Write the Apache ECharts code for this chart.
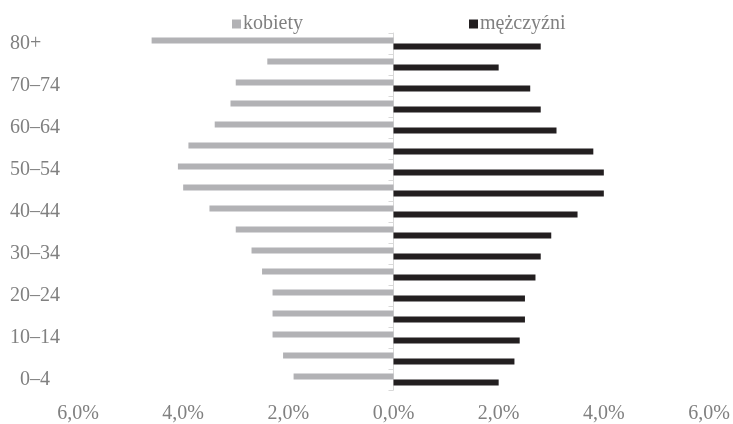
<!DOCTYPE html>
<html>
<head>
<meta charset="utf-8">
<script src="https://cdn.jsdelivr.net/npm/echarts@6/dist/echarts.min.js"></script>
<style>
  html, body { margin: 0; padding: 0; background: #fff; }
  #chart { width: 733px; height: 424px; }
</style>
</head>
<body>
<div id="chart"></div>
<script>
// age groups, bottom to top
const ageGroups = ['0–4', '5–9', '10–14', '15–19', '20–24', '25–29', '30–34', '35–39',
  '40–44', '45–49', '50–54', '55–59', '60–64', '65–69', '70–74', '75–79', '80+']
// share of population, %
const kobiety = [1.9, 2.1, 2.3, 2.3, 2.3, 2.5, 2.7, 3.0, 3.5, 4.0, 4.1, 3.9, 3.4, 3.1, 3.0, 2.4, 4.6]
const mezczyzni = [2.0, 2.3, 2.4, 2.5, 2.5, 2.7, 2.8, 3.0, 3.5, 4.0, 4.0, 3.8, 3.1, 2.8, 2.6, 2.0, 2.8]
const xTicks = { min: -6, max: 6, step: 2 }

const textColor = '#808080'
const fontFamily = '"Liberation Serif", "DejaVu Serif", serif'
const fontSize = 20

const chart = echarts.init(document.getElementById('chart'))

const option = {
  animation: false,
  backgroundColor: '#fff',
  textStyle: { fontFamily: fontFamily },
  legend: {
    data: ['kobiety', 'mężczyźni'],
    top: 9,
    left: 227,
    itemGap: 166,
    itemWidth: 9,
    itemHeight: 9,
    icon: 'rect',
    textStyle: { color: textColor, fontSize: fontSize, fontFamily: fontFamily, padding: [0, 0, 0, -3] },
  },
  grid: { left: 78, right: 24, top: 33, bottom: 34 },
  xAxis: {
    type: 'value',
    min: xTicks.min,
    max: xTicks.max,
    interval: xTicks.step,
    axisLine: { show: false },
    axisTick: { show: false },
    splitLine: { show: false },
    axisLabel: {
      color: textColor,
      fontSize: fontSize,
      fontFamily: fontFamily,
      margin: 14,
      formatter: (v) => Math.abs(v).toFixed(1).replace('.', ',') + '%',
    },
  },
  yAxis: [
    {
      // axis line + ticks at zero
      type: 'category',
      data: ageGroups,
      axisLine: { onZero: true, lineStyle: { color: '#d9d9d9', width: 1 } },
      axisTick: { show: true, interval: 0, length: 5, lineStyle: { color: '#d9d9d9' } },
      axisLabel: { show: false },
    },
    {
      // labels on the left edge
      type: 'category',
      data: ageGroups,
      position: 'left',
      axisLine: { show: false, onZero: false },
      axisTick: { show: false },
      axisLabel: {
        interval: 1,
        align: 'left',
        margin: 68,
        color: textColor,
        fontSize: fontSize,
        fontFamily: fontFamily,
        formatter: (v, i) => (i === 0 ? '{p|' + v + '}' : v),
        rich: {
          p: { padding: [0, 0, 0, 10], color: textColor, fontSize: fontSize, fontFamily: fontFamily },
        },
      },
    },
  ],
  series: [
    {
      name: 'kobiety',
      type: 'bar',
      yAxisIndex: 0,
      barWidth: 6,
      barGap: '0%',
      itemStyle: { color: '#b2b2b5' },
      data: kobiety.map((v) => -v),
    },
    {
      name: 'mężczyźni',
      type: 'bar',
      yAxisIndex: 0,
      barWidth: 6,
      barGap: '0%',
      itemStyle: { color: '#231f20' },
      data: mezczyzni,
    },
  ],
}

chart.setOption(option)
</script>
</body>
</html>
